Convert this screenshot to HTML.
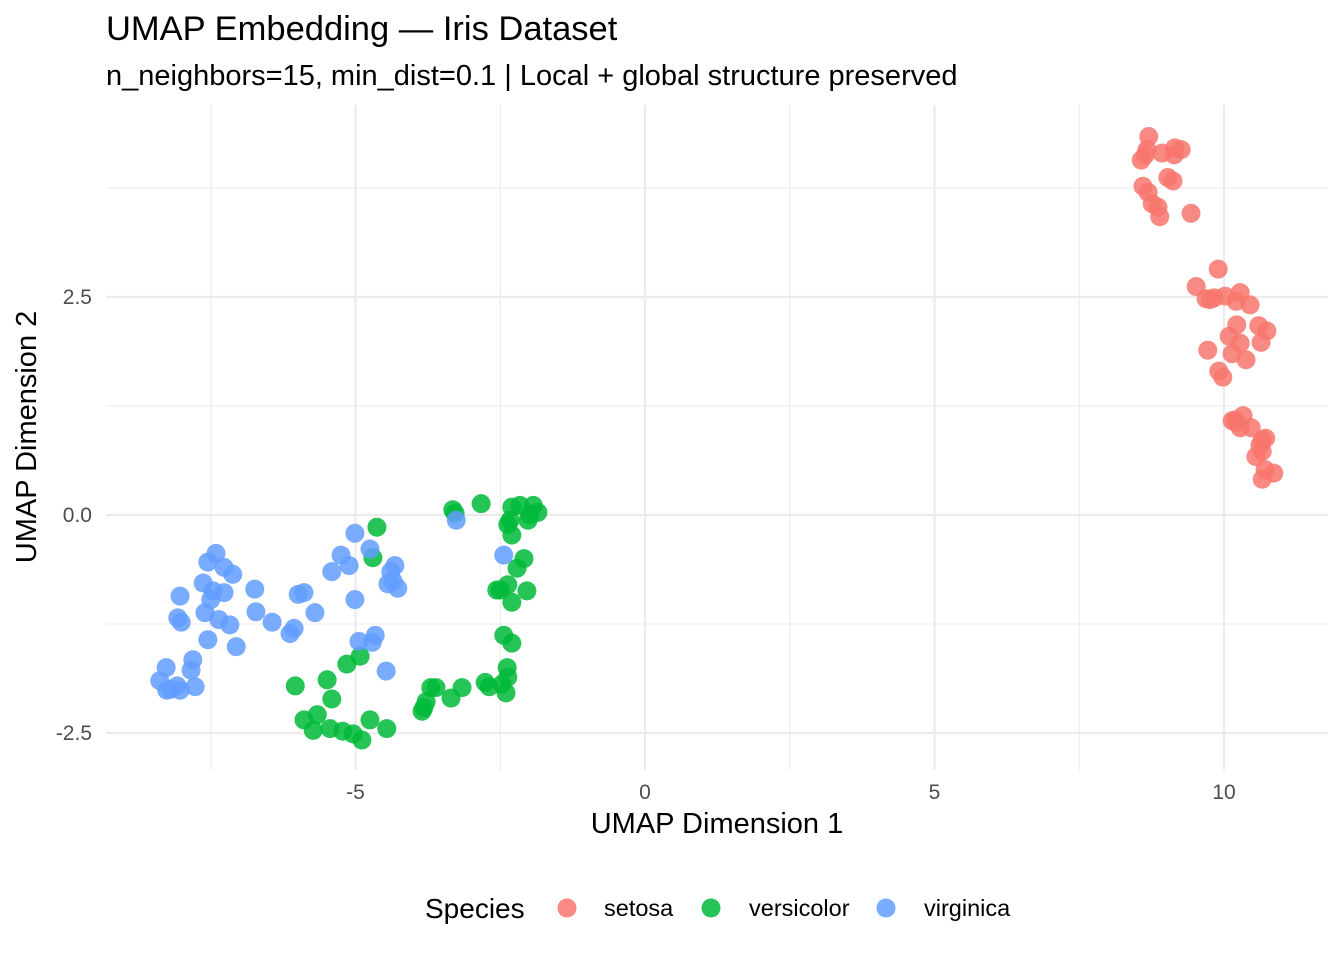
<!DOCTYPE html>
<html><head><meta charset="utf-8"><style>
html,body{margin:0;padding:0;background:#fff;}
svg{display:block;font-family:"Liberation Sans",sans-serif;}
</style></head><body>
<svg id="chart" width="1344" height="960">
<text x="106" y="40" font-size="34.5" fill="#000">UMAP Embedding — Iris Dataset</text>
<text x="106" y="85" font-size="29" fill="#000">n_neighbors=15, min_dist=0.1 | Local + global structure preserved</text>
<g id="grid"></g>
<g id="points"></g>
<g id="ticks"></g>
<text x="717" y="833" font-size="29" text-anchor="middle" fill="#000">UMAP Dimension 1</text>
<text transform="translate(36,437) rotate(-90)" font-size="29" text-anchor="middle" fill="#000">UMAP Dimension 2</text>
<g>
<text x="425" y="918" font-size="28" fill="#000">Species</text>
<g><circle cx="567" cy="908" r="9.5" fill="#F8766D" opacity="0.85"/><text x="604" y="916" font-size="23.5">setosa</text></g>
<g><circle cx="711" cy="908" r="9.5" fill="#00BA38" opacity="0.85"/><text x="749" y="916" font-size="23.5">versicolor</text></g>
<g><circle cx="886" cy="908" r="9.5" fill="#619CFF" opacity="0.85"/><text x="924" y="916" font-size="23.5">virginica</text></g>
</g>
</svg>
<script>
const xMajor=[-5,0,5,10];
const xMinor=[-7.5,-2.5,2.5,7.5];
const yMajor=[2.5,0,-2.5];
const yMinor=[3.75,1.25,-1.25];
const xTickLabels=["-5","0","5","10"];
const yTickLabels=["2.5","0.0","-2.5"];
const setosaX=[8.70,8.57,8.64,8.93,9.14,9.26,8.60,8.69,9.03,9.12,8.76,8.86,8.89,9.43,9.90,9.52,9.69,9.83,10.02,10.28,10.21,10.45,10.22,10.60,10.74,10.09,10.28,10.64,9.72,10.14,10.38,9.91,9.98,10.14,10.22,10.33,10.28,10.47,10.72,10.62,10.66,10.55,10.71,10.86,10.66,8.67,9.15,9.76,10.19,10.66];
const setosaY=[4.34,4.07,4.13,4.15,4.13,4.19,3.77,3.70,3.87,3.83,3.57,3.53,3.42,3.46,2.82,2.62,2.48,2.49,2.51,2.55,2.45,2.41,2.18,2.17,2.11,2.05,1.97,1.98,1.89,1.85,1.78,1.65,1.58,1.08,1.06,1.14,1.00,1.00,0.88,0.80,0.73,0.67,0.52,0.48,0.41,4.19,4.21,2.47,1.09,0.86];
const versiX=[-3.32,-2.83,-2.30,-1.93,-1.85,-2.37,-2.02,-2.30,-4.63,-4.70,-2.09,-2.21,-2.50,-2.37,-2.30,-2.04,-2.44,-2.30,-2.38,-2.37,-2.47,-2.40,-2.76,-2.69,-3.16,-3.70,-3.61,-3.35,-3.78,-3.85,-6.04,-5.49,-5.15,-4.92,-5.41,-5.89,-5.66,-5.73,-5.44,-5.22,-5.04,-4.89,-4.75,-4.46,-1.99,-2.16,-3.28,-2.33,-2.56,-3.82];
const versiY=[0.06,0.13,0.09,0.11,0.03,-0.11,-0.06,-0.23,-0.14,-0.49,-0.50,-0.61,-0.86,-0.80,-1.00,-0.87,-1.38,-1.47,-1.75,-1.86,-1.94,-2.04,-1.92,-1.97,-1.98,-1.98,-1.98,-2.10,-2.14,-2.25,-1.96,-1.89,-1.71,-1.62,-2.11,-2.35,-2.29,-2.47,-2.45,-2.48,-2.51,-2.58,-2.35,-2.45,0.00,0.11,0.02,-0.06,-0.86,-2.21];
const virgX=[-5.01,-4.75,-5.25,-5.11,-5.41,-4.32,-4.39,-4.35,-4.44,-4.27,-5.01,-2.44,-3.26,-7.41,-7.55,-7.27,-7.12,-7.63,-7.46,-7.27,-8.03,-7.50,-6.74,-5.99,-5.89,-7.60,-5.70,-6.72,-8.07,-8.01,-7.36,-7.17,-6.44,-6.06,-6.13,-7.55,-7.06,-4.94,-4.66,-4.71,-4.47,-7.81,-8.27,-7.84,-8.38,-8.08,-8.20,-8.03,-7.77,-8.26];
const virgY=[-0.21,-0.39,-0.46,-0.58,-0.65,-0.58,-0.65,-0.76,-0.79,-0.84,-0.97,-0.46,-0.06,-0.44,-0.54,-0.60,-0.68,-0.78,-0.87,-0.89,-0.93,-0.97,-0.85,-0.91,-0.89,-1.12,-1.12,-1.11,-1.18,-1.23,-1.20,-1.26,-1.23,-1.30,-1.36,-1.43,-1.51,-1.45,-1.38,-1.46,-1.79,-1.66,-1.75,-1.78,-1.90,-1.96,-2.00,-2.01,-1.97,-2.01];

const PL=106,PR=1328,PT=105,PB=770;
function sx(v){return 645+v*57.9;}
function sy(v){return 515-v*87.2;}
const NS="http://www.w3.org/2000/svg";
const grid=document.getElementById('grid'),ticks=document.getElementById('ticks'),pts=document.getElementById('points');
function line(x1,y1,x2,y2,w,name){const l=document.createElementNS(NS,'line');
l.setAttribute('x1',x1);l.setAttribute('y1',y1);l.setAttribute('x2',x2);l.setAttribute('y2',y2);
l.setAttribute('stroke','#ebebeb');l.setAttribute('stroke-width',w);


grid.appendChild(l);}
xMinor.forEach(v=>line(sx(v),PT,sx(v),PB,1.1,'x-minor-gridline'));
yMinor.forEach(v=>line(PL,sy(v),PR,sy(v),1.1,'y-minor-gridline'));
xMajor.forEach(v=>line(sx(v),PT,sx(v),PB,2.2,'x-major-gridline'));
yMajor.forEach(v=>line(PL,sy(v),PR,sy(v),2.2,'y-major-gridline'));
function txt(x,y,s,anchor,name){const t=document.createElementNS(NS,'text');
t.setAttribute('x',x);t.setAttribute('y',y);t.setAttribute('text-anchor',anchor);
t.setAttribute('font-size','21');t.setAttribute('fill','#4d4d4d');t.textContent=s;


ticks.appendChild(t);}
xMajor.forEach((v,i)=>txt(sx(v),799,xTickLabels[i],'middle','x-tick-label'));
yMajor.forEach((v,i)=>txt(92,sy(v)+7,yTickLabels[i],'end','y-tick-label'));
function series(X,Y,col,name){X.forEach((x,i)=>{const c=document.createElementNS(NS,'circle');
c.setAttribute('cx',sx(x));c.setAttribute('cy',sy(Y[i]));c.setAttribute('r',9.5);
c.setAttribute('fill',col);c.setAttribute('fill-opacity',0.85);


pts.appendChild(c);});}
series(setosaX,setosaY,'#F8766D','point-setosa');
series(versiX,versiY,'#00BA38','point-versicolor');
series(virgX,virgY,'#619CFF','point-virginica');
</script>
</body></html>
